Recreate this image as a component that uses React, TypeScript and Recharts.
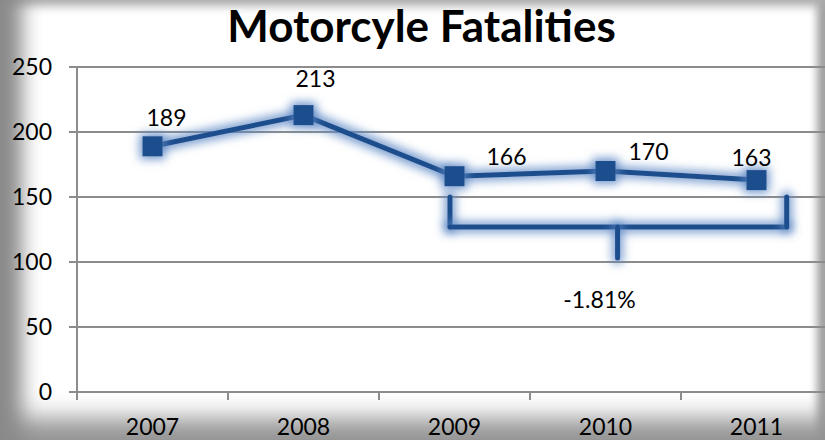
import { LineChart, Line, XAxis, YAxis, CartesianGrid, ReferenceLine, ReferenceDot, LabelList } from 'recharts'

const years = ['2007', '2008', '2009', '2010', '2011']
const fatalities = [189, 213, 166, 170, 163]
const yTicks = [0, 50, 100, 150, 200, 250]

// bracket under 2009-2011 (x in category index units, y in data units)
const bracketLeft = 1.97
const bracketRight = 4.2
const bracketTop = 150
const bracketBar = 127
const bracketTip = { x: 3.08, y: 103 }
const changeText = '-1.81%'
const changeAt = { x: 2.96, y: 71 }

const labelOffsets = [
  [14, -28],
  [12, -36],
  [52, -19],
  [43, -19],
  [-5, -22],
]

const data = years.map((year, i) => ({ i, year, value: fatalities[i] }))

const BLUE = '#1f4e8c'
const GRID = '#8c8c8c'
const FONT = 'Lato, "Open Sans", sans-serif'
const BAND = 151

const SquareDot = (p: any) => (
  <rect key={p.index} x={p.cx - 10} y={p.cy - 10} width={20} height={20} fill={BLUE} filter="url(#glow)" />
)

const ValueLabel = (p: any) => {
  const [dx, dy] = labelOffsets[p.index] || [0, -20]
  return (
    <text x={p.x + dx} y={p.y + dy} dy="0.35em" textAnchor="middle" fontSize={23} fontFamily={FONT} fill="#000">
      {p.value}
    </text>
  )
}

const YearTick = (p: any) => {
  const { x, y, payload, index } = p
  return (
    <g>
      <line x1={x - BAND / 2} x2={x - BAND / 2} y1={y} y2={y + 8} stroke={GRID} strokeWidth={2} />
      {index === years.length - 1 && (
        <line x1={x + BAND / 2} x2={x + BAND / 2} y1={y} y2={y + 8} stroke={GRID} strokeWidth={2} />
      )}
      <text x={x} y={y + 43} textAnchor="middle" fontSize={23} fontFamily={FONT} fill="#000">
        {years[payload.value]}
      </text>
    </g>
  )
}

const bracketLine = { stroke: BLUE, strokeWidth: 5, strokeLinecap: 'round' as const, filter: 'url(#glow)' }

export default function App() {
  return (
    <div
      style={{
        position: 'fixed',
        left: 0,
        top: 0,
        width: 825,
        height: 440,
        overflow: 'hidden',
        background: '#fff',
        boxShadow:
          'inset 36px 0 20px -14px #8a8a8a, inset 0 -38px 24px -16px #959595, inset 0 12px 10px -6px #b0b0b0, inset -12px 0 8px -4px #a0a0a0',
      }}
    >
      <svg width={0} height={0} style={{ position: 'absolute' }}>
        <defs>
          <filter id="glow" filterUnits="userSpaceOnUse" x={0} y={0} width={900} height={500}>
            <feMorphology in="SourceAlpha" operator="dilate" radius={3} result="d" />
            <feGaussianBlur in="d" stdDeviation={5} result="b" />
            <feFlood floodColor="#5a86c4" floodOpacity={0.8} />
            <feComposite in2="b" operator="in" result="g" />
            <feMerge>
              <feMergeNode in="g" />
              <feMergeNode in="SourceGraphic" />
            </feMerge>
          </filter>
        </defs>
      </svg>
      <div
        style={{
          position: 'absolute',
          left: 0,
          width: 843,
          top: 1,
          textAlign: 'center',
          fontFamily: FONT,
          fontWeight: 700,
          fontSize: 44,
          lineHeight: '48px',
          color: '#000',
        }}
      >
        Motorcyle Fatalities
      </div>
      <div style={{ position: 'absolute', left: 0, top: 0 }}>
        <LineChart width={850} height={440} data={data} margin={{ top: 67, right: 18, left: 0, bottom: 0 }}>
          <CartesianGrid vertical={false} stroke={GRID} strokeWidth={2} />
          <XAxis
            dataKey="i"
            type="number"
            domain={[-0.5, 4.5]}
            ticks={[0, 1, 2, 3, 4]}
            height={48}
            tickSize={0}
            tickMargin={0}
            tickLine={false}
            axisLine={{ stroke: GRID, strokeWidth: 2 }}
            tick={<YearTick />}
          />
          <YAxis
            domain={[0, 250]}
            ticks={yTicks}
            width={77}
            tickSize={8}
            tickMargin={17}
            axisLine={{ stroke: GRID, strokeWidth: 2 }}
            tickLine={{ stroke: GRID, strokeWidth: 2 }}
            tick={{ fill: '#000', fontSize: 23, fontFamily: FONT }}
          />
          <ReferenceLine segment={[{ x: bracketLeft, y: bracketTop }, { x: bracketLeft, y: bracketBar }]} {...bracketLine} />
          <ReferenceLine segment={[{ x: bracketLeft, y: bracketBar }, { x: bracketRight, y: bracketBar }]} {...bracketLine} />
          <ReferenceLine segment={[{ x: bracketRight, y: bracketBar }, { x: bracketRight, y: bracketTop }]} {...bracketLine} />
          <ReferenceLine segment={[{ x: bracketTip.x, y: bracketBar }, { x: bracketTip.x, y: bracketTip.y }]} {...bracketLine} />
          <ReferenceDot
            x={changeAt.x}
            y={changeAt.y}
            r={0}
            fill="none"
            stroke="none"
            label={{ value: changeText, position: 'center', fontSize: 23, fontFamily: FONT, fill: '#000' }}
          />
          <Line
            dataKey="value"
            stroke={BLUE}
            strokeWidth={5}
            filter="url(#glow)"
            dot={<SquareDot />}
            activeDot={false}
            isAnimationActive={false}
          >
            <LabelList dataKey="value" content={<ValueLabel />} />
          </Line>
        </LineChart>
      </div>
    </div>
  )
}
